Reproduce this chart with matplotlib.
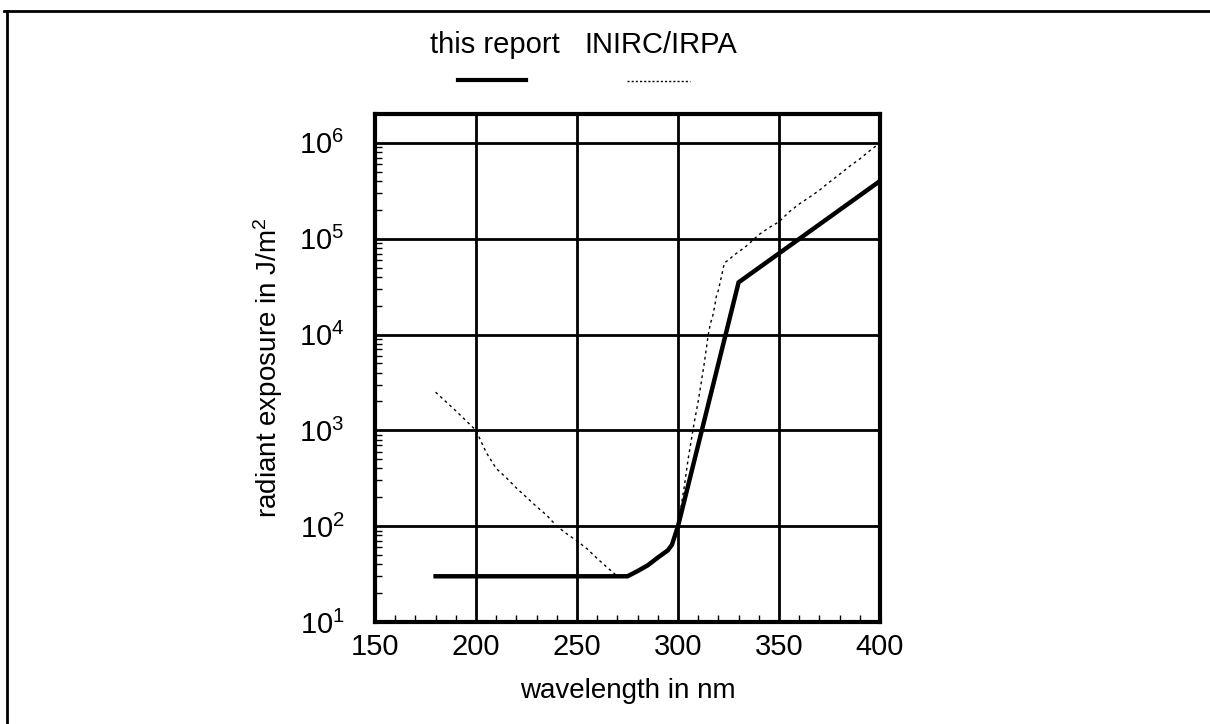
import matplotlib
matplotlib.use("Agg")
import matplotlib.pyplot as plt
from matplotlib.lines import Line2D
from matplotlib.ticker import LogLocator, MultipleLocator, FixedLocator

plt.rcParams['font.family'] = ['Liberation Sans', 'DejaVu Sans']
plt.rcParams['mathtext.default'] = 'regular'

# "this report"
report_wl = [180, 275, 280, 285, 290, 295, 297, 300, 330, 400]
report_h = [30, 30, 34, 39, 47, 56, 64, 100, 3.5e4, 4.0e5]

# INIRC/IRPA
inirc_wl = [180, 190, 200, 205, 210, 215, 220, 225, 230, 235, 240, 245, 250, 255, 260, 265, 270,
            275, 280, 285, 290, 295, 297, 300, 303, 305, 308, 310, 313, 315, 316, 317, 318, 319,
            320, 322, 323, 325, 328, 330, 333, 335, 340, 345, 350, 355, 360, 365, 370, 375, 380,
            385, 390, 395, 400]
inirc_h = [2500, 1600, 1000, 590, 400, 320, 250, 200, 160, 130, 100, 83, 70, 58, 46, 37, 30,
           31, 34, 39, 47, 56, 65, 100, 250, 500, 1200, 2000, 5000, 1.0e4, 1.3e4, 1.5e4, 1.9e4, 2.5e4,
           2.9e4, 4.5e4, 5.6e4, 6.0e4, 6.8e4, 7.3e4, 8.1e4, 8.8e4, 1.1e5, 1.3e5, 1.5e5, 1.9e5, 2.3e5,
           2.7e5, 3.2e5, 3.9e5, 4.7e5, 5.7e5, 6.8e5, 8.3e5, 1.0e6]

x_ticks = [150, 200, 250, 300, 350, 400]
x_ticklabels = ['150', '200', '250', '300', '350', '400']

fig = plt.figure(figsize=(12.1, 7.24), dpi=100)
ax = fig.add_axes([375/1210, 1-622/724, 505/1210, (622-114)/724])

# dashed curve drawn where it departs from the solid one
idx_end = inirc_wl.index(270)
idx_start = inirc_wl.index(300)
ax.plot(inirc_wl[:idx_end+1], inirc_h[:idx_end+1], color='black', lw=1.0,
        linestyle=(0, (2, 2.5)), zorder=3)
ax.plot(inirc_wl[idx_start:], inirc_h[idx_start:], color='black', lw=1.0,
        linestyle=(0, (2, 2.5)), zorder=3)
ax.plot(report_wl, report_h, color='black', lw=3.2, solid_joinstyle='miter', zorder=4)

ax.set_yscale('log')
ax.set_xlim(150, 400)
ax.set_ylim(10, 2.0e6)
ax.xaxis.set_major_locator(FixedLocator(x_ticks))
ax.set_xticklabels(x_ticklabels)
ax.xaxis.set_minor_locator(MultipleLocator(10))
ax.yaxis.set_major_locator(LogLocator(base=10, numticks=10))
ax.yaxis.set_minor_locator(LogLocator(base=10, subs=range(2, 10), numticks=20))
ax.tick_params(which='major', direction='in', length=0, labelsize=21)
ax.tick_params(axis='x', which='major', pad=8)
ax.tick_params(axis='y', which='major', pad=22)
ax.tick_params(which='minor', direction='in', length=5, width=1)
ax.grid(True, which='major', color='black', lw=2.0)
for s in ax.spines.values():
    s.set_linewidth(3)
ax.set_xlabel('wavelength in nm', fontsize=20, labelpad=12)
ax.set_ylabel('radiant exposure in J/m$^2$', fontsize=20, labelpad=10)

# legend
fig.text(495/1210, 1-45/724, 'this report', fontsize=21, ha='center', va='center')
fig.text(661/1210, 1-45/724, 'INIRC/IRPA', fontsize=21, ha='center', va='center')
fig.add_artist(Line2D([458/1210, 526/1210], [1-80/724, 1-80/724], color='black', lw=3))
fig.add_artist(Line2D([627/1210, 690/1210], [1-81/724, 1-81/724], color='black', lw=1.0,
                      linestyle=(0, (1.5, 1.5))))

# page border (top and left)
fig.add_artist(Line2D([4/1210, 1.0], [1-11/724, 1-11/724], color='black', lw=2))
fig.add_artist(Line2D([7/1210, 7/1210], [0, 1-11/724], color='black', lw=2))

fig.savefig('out.png', dpi=100)
